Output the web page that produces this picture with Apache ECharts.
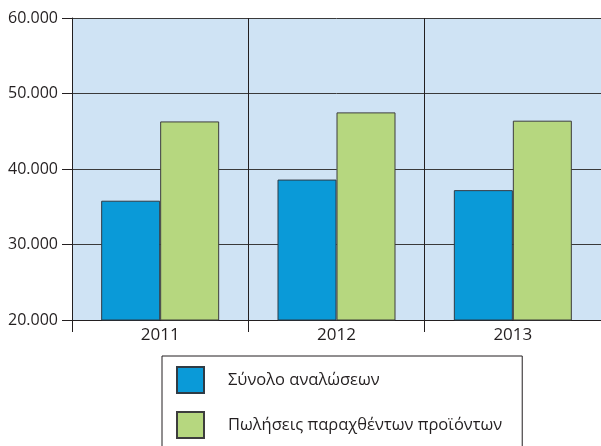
<!DOCTYPE html>
<html>
<head>
<meta charset="utf-8">
<script src="https://cdn.jsdelivr.net/npm/echarts@6/dist/echarts.min.js"></script>
<style>
html,body{margin:0;padding:0;background:#fff;}
#c{width:601px;height:446px;}
</style>
</head>
<body>
<div id="c"></div>
<script>
const categories = ['2011', '2012', '2013'];
const seriesNames = ['Σύνολο αναλώσεων', 'Πωλήσεις παραχθέντων προϊόντων'];
const consumption = [35800, 38600, 37200];
const sales = [46300, 47500, 46400];
const yMin = 20000, yMax = 60000, yStep = 10000;

const chart = echarts.init(document.getElementById('c'), null, {renderer: 'canvas'});
const txt = '#231f20';
const fontFamily = '"Open Sans", sans-serif';
const fmt = v => String(v).replace(/\B(?=(\d{3})+(?!\d))/g, '.');

chart.setOption({
  animation: false,
  textStyle: {fontFamily: fontFamily, color: txt},
  grid: {
    left: 72, top: 18, width: 529, height: 302,
    show: true, backgroundColor: '#cfe3f4', borderWidth: 0, containLabel: false
  },
  legend: {
    orient: 'vertical',
    left: 162, top: 356, height: 200,
    padding: [10, 20, 20, 14],
    itemWidth: 27, itemHeight: 26, itemGap: 17,
    borderColor: '#231f20', borderWidth: 1,
    icon: 'rect',
    textStyle: {fontSize: 16.5, color: txt, fontFamily: fontFamily, padding: [0, 0, 0, 19]},
    data: seriesNames
  },
  xAxis: {
    type: 'category',
    data: categories,
    boundaryGap: true,
    axisLine: {show: true, lineStyle: {color: '#231f20', width: 1}},
    axisTick: {show: true, length: 12, lineStyle: {color: '#231f20', width: 1}},
    axisLabel: {fontSize: 17, color: txt, margin: 7, fontFamily: fontFamily},
    splitLine: {show: true, lineStyle: {color: '#231f20', width: 1}}
  },
  yAxis: {
    type: 'value',
    min: yMin, max: yMax, interval: yStep,
    axisLine: {show: true, lineStyle: {color: '#231f20', width: 1}},
    axisTick: {show: true, length: 10, lineStyle: {color: '#231f20', width: 1}},
    axisLabel: {fontSize: 16, color: txt, margin: 14, formatter: fmt, fontFamily: fontFamily},
    splitLine: {show: true, lineStyle: {color: '#3a3a3a', width: 1}}
  },
  series: [
    {
      name: seriesNames[0], type: 'bar', data: consumption,
      barWidth: 59, barGap: '0%',
      itemStyle: {color: '#0a9ad8', borderColor: '#2f3b45', borderWidth: 1}
    },
    {
      name: seriesNames[1], type: 'bar', data: sales,
      barWidth: 59, barGap: '0%',
      itemStyle: {color: '#b6d77f', borderColor: '#3d3d3d', borderWidth: 1}
    }
  ]
});
</script>
</body>
</html>
